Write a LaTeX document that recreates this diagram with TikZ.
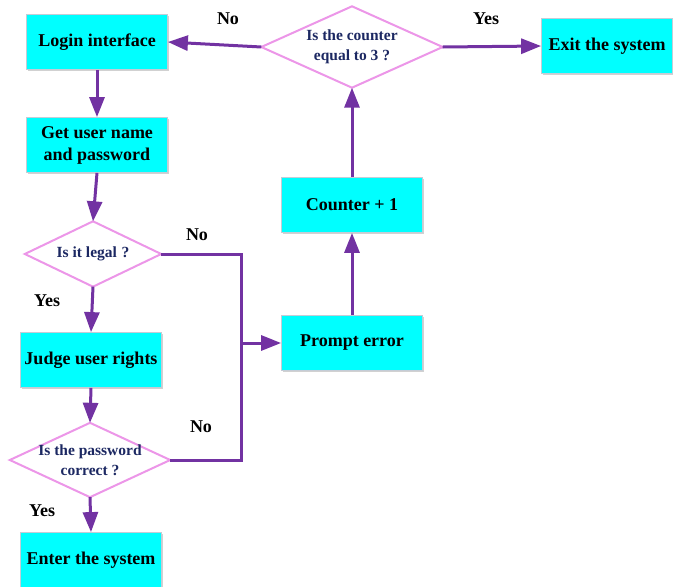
\documentclass[tikz,border=0pt]{standalone}
\usepackage{fontspec}
\setmainfont{Liberation Serif}
\usetikzlibrary{arrows.meta,shadows,backgrounds}

\definecolor{flowpurple}{RGB}{114,50,162}
\definecolor{boxcyan}{RGB}{0,255,255}
\definecolor{boxedge}{RGB}{196,204,214}
\definecolor{decedge}{RGB}{236,150,232}
\definecolor{dectext}{RGB}{28,40,98}

\tikzset{
  procbox/.style={rectangle, fill=boxcyan, draw=boxedge, line width=0.8pt,
    minimum width=141pt, minimum height=55pt, inner sep=2pt, align=center,
    font=\fontsize{18}{22}\selectfont\bfseries,
    drop shadow={shadow xshift=1.2pt, shadow yshift=-1.2pt, opacity=0.18, fill=black}},
  % decision text holder; the rhombus itself is drawn from its anchors
  decision/.style={rectangle, inner sep=0pt, align=center, text=dectext,
    font=\fontsize{15.5}{20}\selectfont\bfseries},
  rhomb/.style={fill=white, draw=decedge, line width=2pt, line join=miter},
  flow/.style={draw=flowpurple, line width=3pt,
    -{Triangle[length=20pt,width=15pt]}},
  flowline/.style={draw=flowpurple, line width=3pt},
  branchlabel/.style={font=\fontsize{18}{20}\selectfont\bfseries, inner sep=0pt}
}
\newcommand{\rhombof}[1]{\path[rhomb] (#1.north) -- (#1.east) -- (#1.south) -- (#1.west) -- cycle;}

\begin{document}
\begin{tikzpicture}[x=1pt,y=-1pt]
\useasboundingbox (0,0) rectangle (673,587);

% process boxes
\node[procbox] (login)  at (97,42)  {Login interface};
\node[procbox] (getup)  at (97,145) {Get user name\\and password};
\node[procbox] (judge)  at (91,360) {Judge user rights};
\node[procbox] (enter)  at (91,560) {Enter the system};
\node[procbox] (prompt) at (352,343) {Prompt error};
\node[procbox] (count)  at (352,205) {Counter + 1};
\node[procbox, minimum width=131pt] (exit) at (607,46) {Exit the system};

% decisions
\node[decision, minimum width=181pt, minimum height=81pt] (ctr) at (352,47)
  {Is the counter\\equal to 3\hspace{0.25em}?};
\node[decision, minimum width=136pt, minimum height=65pt] (legal) at (93,254)
  {Is it legal\hspace{0.3em}?};
\node[decision, minimum width=160pt, minimum height=74pt] (pwd) at (90,460)
  {Is the password\\correct\hspace{0.25em}?};

\begin{scope}[on background layer]
  \rhombof{ctr}
  \rhombof{legal}
  \rhombof{pwd}
\end{scope}

% junction on the error bus
\coordinate (bus) at (241,343);

% main flow
\draw[flow] (login.south) -- (getup.north);
\draw[flow] (getup.south) -- (legal.north);
\draw[flow] (legal.south) -- (judge.north);
\draw[flow] (judge.south) -- (pwd.north);
\draw[flow] (pwd.south) -- (enter.north);

% error path
\draw[flowline] (legal.east) -| (bus) |- (pwd.east);
\draw[flow] (bus) -- (prompt.west);
\draw[flow] (prompt.north) -- (count.south);
\draw[flow] (count.north) -- (ctr.south);
\draw[flow] (ctr.west) -- (login.east);
\draw[flow] (ctr.east) -- (exit.west);

% branch labels
\node[branchlabel] (lno1)  at (228,19)  {No};
\node[branchlabel] (lyes1) at (486,19)  {Yes};
\node[branchlabel] (lno2)  at (197,235) {No};
\node[branchlabel] (lyes2) at (47,301)  {Yes};
\node[branchlabel] (lno3)  at (201,427) {No};
\node[branchlabel] (lyes3) at (42,511)  {Yes};
\end{tikzpicture}
\end{document}
